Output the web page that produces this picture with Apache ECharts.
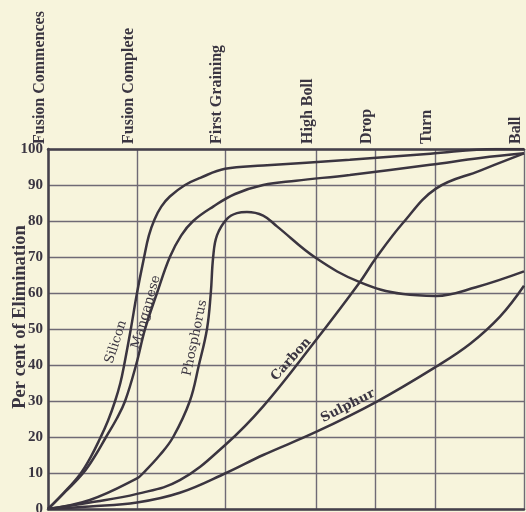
<!DOCTYPE html>
<html><head><meta charset="utf-8">
<script src="https://cdn.jsdelivr.net/npm/echarts@6/dist/echarts.min.js"></script>
<style>html,body{margin:0;padding:0;background:#f7f4dc;}#c{width:526px;height:512px;}</style>
</head><body><div id="c"></div>
<script>
// Stages of the puddling process (x axis = progress of the heat, 0..100)
const stageNames = ['Fusion Commences','Fusion Complete','First Graining','High Boll','Drop','Turn','Ball'];
const stagePositions = [0, 18.7, 37.2, 56.3, 68.7, 81.3, 100];
const yTickLabels = [0,10,20,30,40,50,60,70,80,90,100];

// Per cent of elimination
const siliconX = [0, 3.4, 6.7, 9.0, 10.9, 12.6, 14.1, 15.2, 16.0, 17.4, 18.7, 20.2, 21.2, 22.4, 23.8, 25.6, 28.8, 32.0, 37.2, 45.2, 63.4, 80.3, 94.1, 100];
const siliconY = [0, 4.6, 9.6, 14.5, 19.5, 24.5, 30, 35, 40, 50, 60, 70, 76, 80.5, 84, 86.8, 90, 92, 94.5, 95.4, 97, 98.7, 100, 100];

const manganeseX = [0, 3.8, 7.4, 10.0, 12.2, 14.4, 16.2, 18.5, 20.4, 22.9, 25.6, 28.0, 30.5, 34.7, 39.3, 45.2, 52.1, 63.4, 80.3, 90.8, 100];
const manganeseY = [0, 5, 10, 15, 20, 25, 30, 40, 50, 60, 70, 76, 80, 84, 87.5, 90, 91.2, 92.8, 95.6, 97.5, 98.8];

const phosphorusX = [0, 8.8, 18.7, 20.0, 23.5, 26.3, 29.8, 31.7, 33.4, 34.2, 34.7, 35.5, 37.6, 39.7, 41.8, 45.2, 48.1, 56.3, 65.5, 74.6, 81.5, 89.9, 100];
const phosphorusY = [0, 2.5, 8.5, 10, 15, 20, 30, 40, 50, 60, 70, 76, 80.6, 82.2, 82.5, 81.5, 78.5, 69.7, 63, 59.7, 59.2, 61.6, 66];

const carbonX = [0, 8.8, 18.7, 27.7, 37.4, 45.2, 55.7, 65.5, 68.9, 74.6, 81.5, 90.8, 100];
const carbonY = [0, 1.8, 4.2, 8, 18, 28.5, 45.9, 63, 69.7, 79.5, 89, 94, 98.8];

const sulphurX = [0, 8.8, 18.7, 27.7, 37.4, 45.2, 56.3, 68.9, 81.5, 88.7, 95.0, 100];
const sulphurY = [0, 0.7, 1.8, 4.5, 10, 15, 21.4, 29.7, 39.5, 45.9, 53.5, 62];

// Curve label anchors (data space) and angles
const curveNames = ['Silicon','Manganese','Phosphorus','Carbon','Sulphur'];
const labelAt = [[14.3, 46.4], [20.6, 54.7], [30.9, 47.5], [51.1, 41.6], [63.0, 28.6]];
const labelAngle = [72, 74, 78, 48, 27];
const labelBold = [false, false, false, true, true];

const zip = (xs, ys) => xs.map((x, i) => [x, ys[i]]);
const ink = '#3a3541';
const serif = 'Liberation Serif';

const seriesData = [zip(siliconX, siliconY), zip(manganeseX, manganeseY), zip(phosphorusX, phosphorusY), zip(carbonX, carbonY), zip(sulphurX, sulphurY)];

const chart = echarts.init(document.getElementById('c'), null, {renderer: 'canvas'});
chart.setOption({
  backgroundColor: '#f7f4dc',
  animation: false,
  grid: {left: 48, right: 2, top: 149, bottom: 3, containLabel: false, outerBoundsMode: 'none'},
  xAxis: [{
    type: 'value', min: 0, max: 100, position: 'bottom',
    axisLine: {show: true, lineStyle: {color: '#45404b', width: 2.5}},
    axisTick: {show: false}, axisLabel: {show: false}, splitLine: {show: false}
  }, {
    type: 'value', min: 0, max: 100, position: 'top',
    axisLine: {show: true, lineStyle: {color: '#45404b', width: 2.5}},
    axisTick: {show: false, customValues: stagePositions},
    axisLabel: {
      show: true, customValues: stagePositions, rotate: -90, margin: 5,
      verticalAlign: 'bottom',
      formatter: v => stageNames[stagePositions.indexOf(v)] || '',
      fontFamily: serif, fontWeight: 'bold', fontSize: 16, color: ink
    },
    splitLine: {show: true, lineStyle: {color: '#6f6a75', width: 1.4}}
  }],
  yAxis: {
    type: 'value', min: 0, max: 100, interval: 10,
    name: 'Per cent of Elimination', nameLocation: 'middle', nameRotate: 90, nameGap: 18,
    nameMoveOverlap: false,
    nameTextStyle: {fontFamily: serif, fontWeight: 'bold', fontSize: 18.5, color: ink, padding: [0, 0, 0, 24]},
    axisLine: {show: true, lineStyle: {color: '#45404b', width: 2.5}},
    axisTick: {show: false},
    axisLabel: {margin: 5, fontFamily: serif, fontWeight: 'bold', fontSize: 15, color: ink,
      formatter: v => yTickLabels.includes(v) ? String(v) : ''},
    splitLine: {show: true, lineStyle: {color: '#6f6a75', width: 1.4}}
  },
  series: seriesData.map((d, i) => ({
    type: 'line', name: curveNames[i], data: d, xAxisIndex: 0,
    smooth: 0.4, symbol: 'none',
    lineStyle: {color: '#3b3540', width: 2.5},
    markPoint: {
      symbol: 'circle', symbolSize: 0, silent: true,
      data: [{coord: labelAt[i], value: curveNames[i]}],
      label: {show: true, position: 'inside', formatter: curveNames[i], rotate: labelAngle[i],
        fontFamily: 'DejaVu Serif', fontSize: 13, fontWeight: labelBold[i] ? 'bold' : 'normal', color: ink}
    }
  }))
});
</script></body></html>
